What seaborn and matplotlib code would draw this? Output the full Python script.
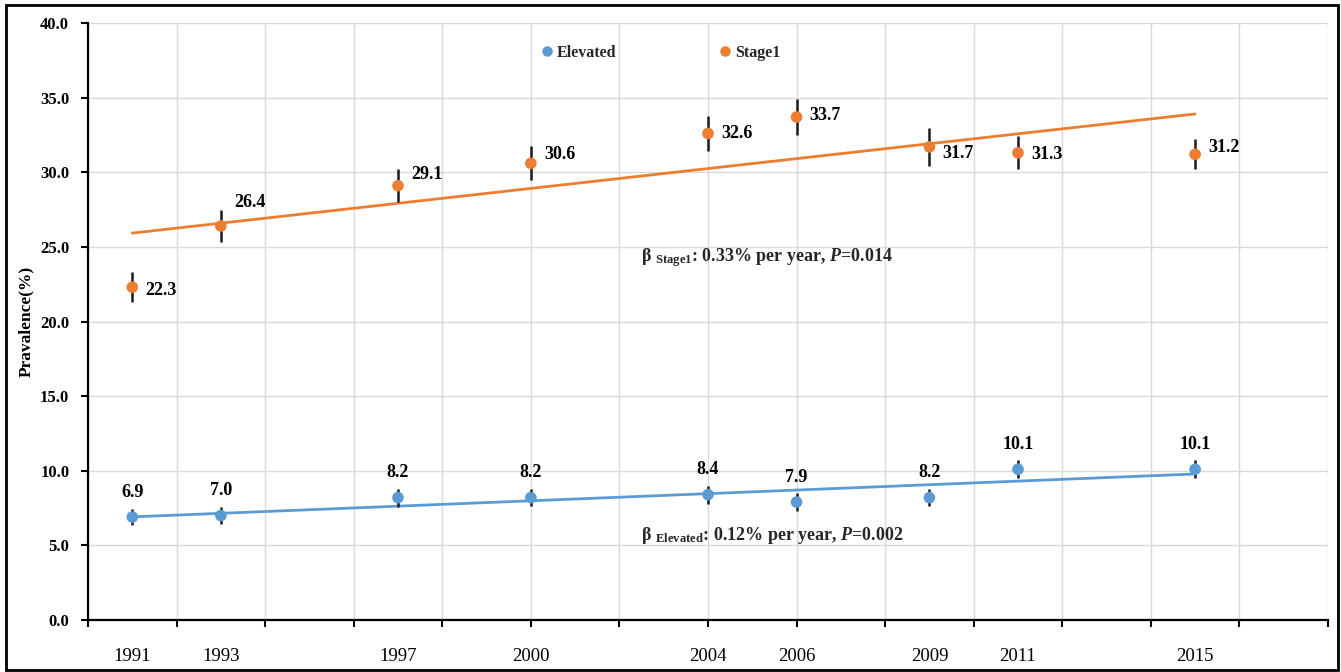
import matplotlib
matplotlib.use("Agg")
import matplotlib.pyplot as plt
from matplotlib.patches import Rectangle
import numpy as np
import pandas as pd
import seaborn as sns

# Survey years and prevalence (%) with error margins
years = [1991, 1993, 1997, 2000, 2004, 2006, 2009, 2011, 2015]
elevated = [6.9, 7.0, 8.2, 8.2, 8.4, 7.9, 8.2, 10.1, 10.1]
elevated_err = [0.55, 0.55, 0.6, 0.55, 0.6, 0.6, 0.55, 0.6, 0.6]
stage1 = [22.3, 26.4, 29.1, 30.6, 32.6, 33.7, 31.7, 31.3, 31.2]
stage1_err = [1.0, 1.1, 1.1, 1.15, 1.2, 1.2, 1.25, 1.1, 1.0]
series_names = ["Elevated", "Stage1"]
y_ticks = [0, 5, 10, 15, 20, 25, 30, 35, 40]

# vertical nudges (pixels) for the Stage1 value labels
stage1_label_dy = [-3, 23, 11, 9, 0, 2, -7, -2, 7]

BLUE = "#5B9BD5"
ORANGE = "#ED7D31"
GRID = "#D9D9D9"

sns.set_theme(style="white")
plt.rcParams["font.family"] = ["Liberation Serif", "DejaVu Serif"]
plt.rcParams["mathtext.fontset"] = "custom"
plt.rcParams["mathtext.rm"] = "Liberation Serif:bold"
plt.rcParams["mathtext.bf"] = "Liberation Serif:bold"
plt.rcParams["mathtext.it"] = "Liberation Serif:italic:bold"

df = pd.DataFrame({
    "year": years * 2,
    "value": elevated + stage1,
    "series": [series_names[0]] * len(years) + [series_names[1]] * len(years),
})

fig = plt.figure(figsize=(13.41, 6.72), dpi=100)
ax = fig.add_axes([88 / 1341, 52 / 672, 1240 / 1341, 597 / 672])

# trend lines (OLS fits over the survey range)
sns.regplot(x=years, y=stage1, scatter=False, ci=None, truncate=True,
            color=ORANGE, line_kws=dict(lw=2.0, zorder=2), ax=ax)
sns.regplot(x=years, y=elevated, scatter=False, ci=None, truncate=True,
            color=BLUE, line_kws=dict(lw=2.0, zorder=2), ax=ax)

# error bars
ax.errorbar(years, stage1, yerr=stage1_err, fmt="none", ecolor="#1a1a1a",
            elinewidth=1.8, capsize=0, zorder=3)
ax.errorbar(years, elevated, yerr=elevated_err, fmt="none", ecolor="#1a1a1a",
            elinewidth=1.8, capsize=0, zorder=3)

# points
sns.scatterplot(data=df, x="year", y="value", hue="series",
                palette={series_names[0]: BLUE, series_names[1]: ORANGE},
                s=70, linewidth=0, zorder=4, ax=ax)

# value labels
for x, v, dy in zip(years, stage1, stage1_label_dy):
    ax.annotate(f"{v:.1f}", (x, v), xytext=(13, dy), textcoords="offset pixels",
                ha="left", va="center", fontsize=13, fontweight="bold",
                color="black")
for x, v in zip(years, elevated):
    ax.annotate(f"{v:.1f}", (x, v), xytext=(0, 25), textcoords="offset pixels",
                ha="center", va="center", fontsize=13, fontweight="bold",
                color="black")

# slope annotations
ax.text(2002.49, 24.0, "β$\\ _{\\rm Stage1}$: 0.33% per year, $P$=0.014",
        fontsize=13, fontweight="bold", ha="left", va="baseline")
ax.text(2002.49, 5.36, "β$\\ _{\\rm Elevated}$: 0.12% per year, $P$=0.002",
        fontsize=13, fontweight="bold", ha="left", va="baseline")

# axes
ax.set_xlim(1990, 2018)
ax.set_ylim(0, 40)
ax.xaxis.remove_overlapping_locs = False
ax.set_xticks(np.arange(1990, 2019, 2))
ax.set_xticklabels([])
ax.set_xticks(years, minor=True)
ax.set_xticklabels([str(y) for y in years], minor=True)
ax.tick_params(axis="x", which="major", direction="out", length=5, width=1.5,
               color="black", bottom=True)
ax.tick_params(axis="x", which="minor", length=0, pad=20, labelsize=13.5,
               labelcolor="black", bottom=True)
ax.set_yticks(y_ticks)
ax.set_yticklabels([f"{t:.1f}" for t in y_ticks])
ax.tick_params(axis="y", direction="out", length=5, width=1.5, color="black",
               left=True, pad=8.5, labelsize=12, labelcolor="black")
for lab in ax.get_yticklabels():
    lab.set_fontweight("bold")

ax.grid(True, which="major", color=GRID, lw=1.0)
ax.set_axisbelow(True)
for side in ["top", "right"]:
    ax.spines[side].set_visible(False)
for side in ["left", "bottom"]:
    ax.spines[side].set_color("black")
    ax.spines[side].set_linewidth(1.6)

ax.set_xlabel("")
ax.set_ylabel("Pravalence(%)", fontsize=12.5, fontweight="bold", labelpad=4,
              color="black")

# legend
handles, labels = ax.get_legend_handles_labels()
keep = [(h, l) for h, l in zip(handles, labels) if l in series_names]
ax.legend([h for h, _ in keep], [l for _, l in keep], ncol=2, loc="center",
          bbox_to_anchor=(0.462, 0.95), frameon=False, columnspacing=6.5,
          handlelength=0.7, handletextpad=0.25, markerscale=0.9,
          prop=dict(family="Liberation Serif", weight="bold", size=11.5))

# outer frame
fig.patches.append(Rectangle((6 / 1341, 2 / 672), 1332 / 1341, 665 / 672,
                             transform=fig.transFigure, fill=False,
                             edgecolor="black", lw=2.0))

fig.savefig("out.png", dpi=100)
